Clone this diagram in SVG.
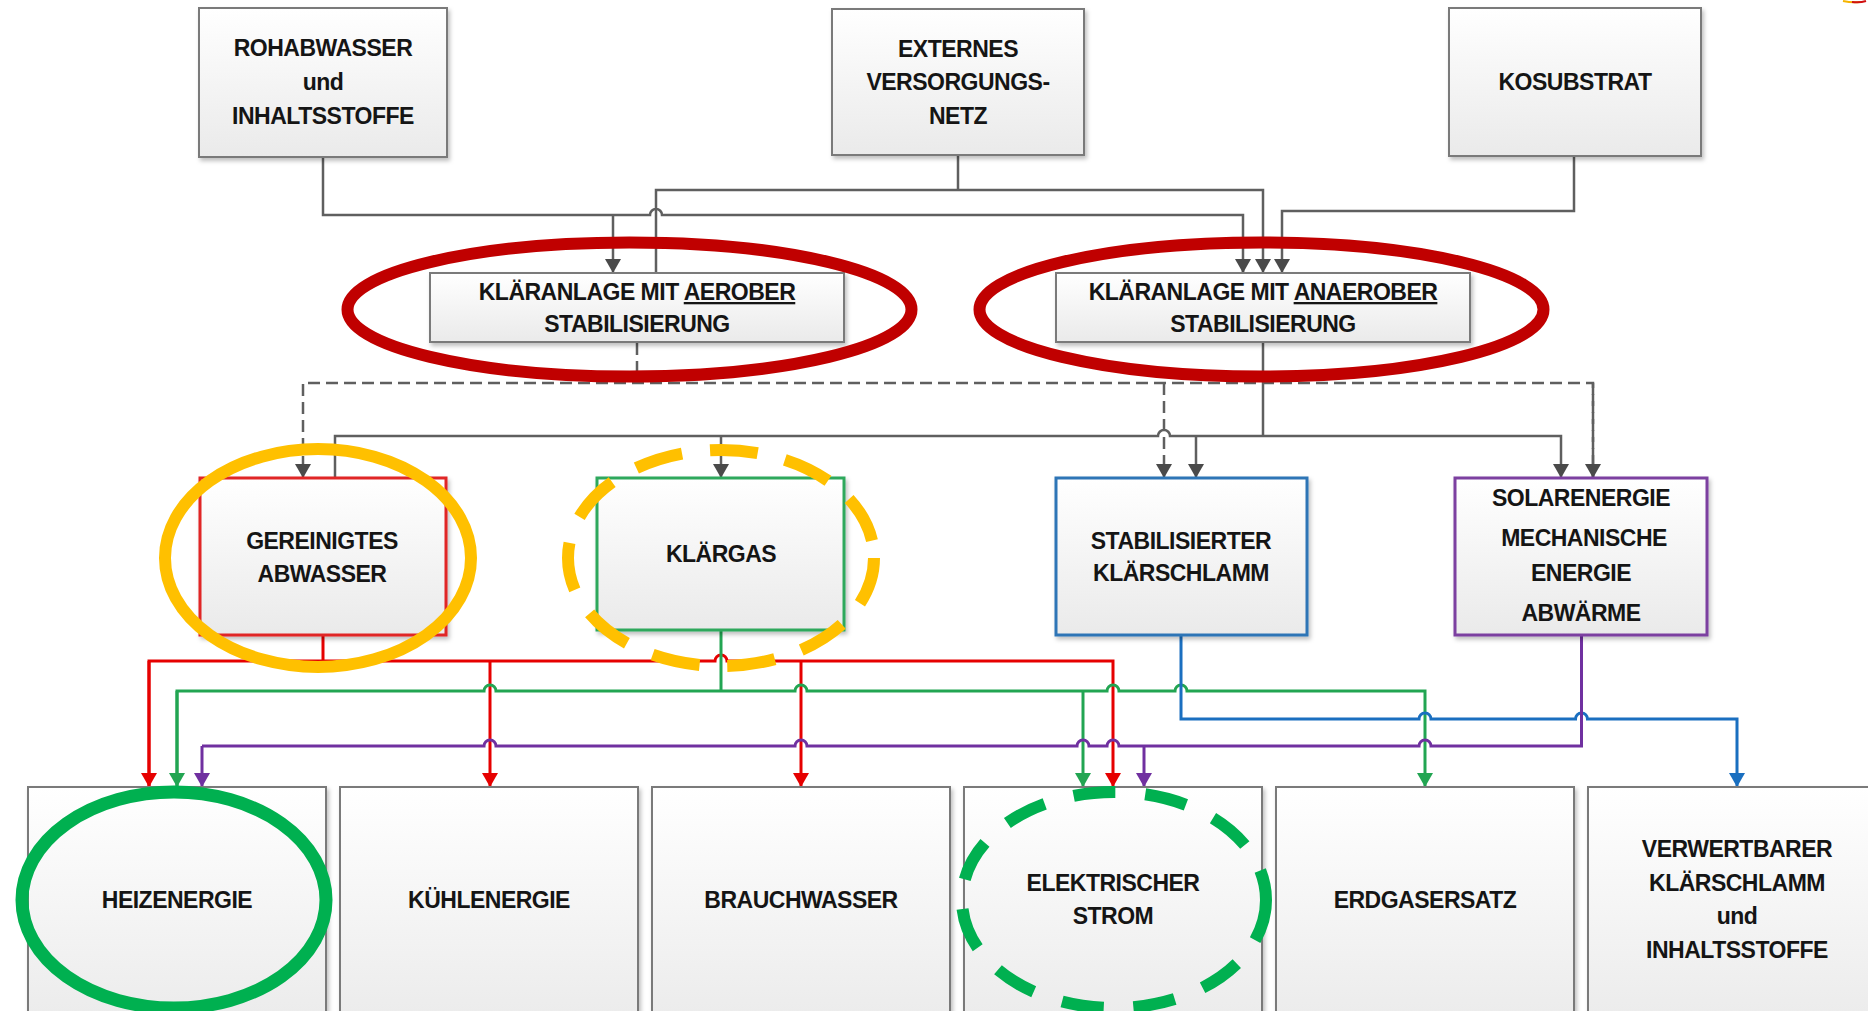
<svg xmlns="http://www.w3.org/2000/svg" width="1868" height="1011" viewBox="0 0 1868 1011">
<defs>
<linearGradient id="boxfill" x1="0" y1="0" x2="0" y2="1">
<stop offset="0" stop-color="#ffffff"/>
<stop offset="1" stop-color="#eaeaea"/>
</linearGradient>
<filter id="shadow" x="-10%" y="-10%" width="130%" height="130%">
<feDropShadow dx="2" dy="3" stdDeviation="2" flood-color="#000" flood-opacity="0.25"/>
</filter>
<marker id="arGray" markerUnits="userSpaceOnUse" viewBox="0 0 14 16" refX="14" refY="8" markerWidth="15" markerHeight="16" orient="auto"><path d="M0 0 L14 8 L0 16 Z" fill="#4a4a4a"/></marker>
<marker id="arRed" markerUnits="userSpaceOnUse" viewBox="0 0 14 16" refX="14" refY="8" markerWidth="15" markerHeight="16" orient="auto"><path d="M0 0 L14 8 L0 16 Z" fill="#e60000"/></marker>
<marker id="arGreen" markerUnits="userSpaceOnUse" viewBox="0 0 14 16" refX="14" refY="8" markerWidth="15" markerHeight="16" orient="auto"><path d="M0 0 L14 8 L0 16 Z" fill="#22a552"/></marker>
<marker id="arBlue" markerUnits="userSpaceOnUse" viewBox="0 0 14 16" refX="14" refY="8" markerWidth="15" markerHeight="16" orient="auto"><path d="M0 0 L14 8 L0 16 Z" fill="#1a6fc0"/></marker>
<marker id="arPurple" markerUnits="userSpaceOnUse" viewBox="0 0 14 16" refX="14" refY="8" markerWidth="15" markerHeight="16" orient="auto"><path d="M0 0 L14 8 L0 16 Z" fill="#7030a0"/></marker>
</defs>
<style>
.box{fill:url(#boxfill);stroke:#7a7a7a;stroke-width:2;filter:url(#shadow)}
.bred{stroke:#e02525;stroke-width:3}
.bgreen{stroke:#2fa85c;stroke-width:3}
.bblue{stroke:#2e75b6;stroke-width:3}
.bpurple{stroke:#7b3fa0;stroke-width:3}
text{font-family:"Liberation Sans",Arial,sans-serif;font-weight:bold;font-size:23px;letter-spacing:-0.5px;fill:#151515;text-anchor:middle}
.c{fill:none;stroke-linejoin:miter}
.gray{stroke:#5f5f5f;stroke-width:2.5}
.dash{stroke:#5f5f5f;stroke-width:2.5;stroke-dasharray:12 6}
.red{stroke:#e60000;stroke-width:3}
.green{stroke:#22a552;stroke-width:3}
.blue{stroke:#1a6fc0;stroke-width:3}
.purple{stroke:#7030a0;stroke-width:3}
.ma-g{marker-end:url(#arGray)}
.ma-r{marker-end:url(#arRed)}
.ma-gr{marker-end:url(#arGreen)}
.ma-b{marker-end:url(#arBlue)}
.ma-p{marker-end:url(#arPurple)}
.hl{fill:none}
</style>

<g id="connectors">
<!-- gray top connectors -->
<path class="c gray" d="M323 157 V215 H650 A6 6 0 0 1 662 215 H1243 V273"/>
<path class="c gray ma-g" d="M1243 260 V273"/>
<path class="c gray ma-g" d="M613 215 V273"/>
<path class="c gray ma-g" d="M656 273 V190 H1263 V273"/>
<path class="c gray" d="M958 155 V190"/>
<path class="c gray ma-g" d="M1574 156 V211 H1282 V273"/>
<!-- dashed connectors from aerobic plant -->
<path class="c dash" d="M637 343 V383"/>
<path class="c dash ma-g" d="M1593 478 V383 H303 V478"/>
<path class="c dash" d="M1593 383 V478"/>
<path class="c dash ma-g" d="M1164 383 V478"/>
<!-- solid connectors from anaerobic plant -->
<path class="c gray" d="M1263 343 V436"/>
<path class="c gray ma-g" d="M335 478 V436 H1158 A6 6 0 0 1 1170 436 H1561 V478"/>
<path class="c gray ma-g" d="M721 436 V478"/>
<path class="c gray ma-g" d="M1196 436 V478"/>
<path class="c gray ma-g" d="M1593 460 V478"/>
<!-- red: gereinigtes abwasser -->
<path class="c red" d="M323 635 V661"/>
<path class="c red ma-r" d="M149 787 V661 H715 A6 6 0 0 1 727 661 H1113 V787"/>
<path class="c red ma-r" d="M149 661 V787"/>
<path class="c red ma-r" d="M490 661 V787"/>
<path class="c red ma-r" d="M801 661 V787"/>
<!-- green: klärgas -->
<path class="c green" d="M721 630 V691"/>
<path class="c green ma-gr" d="M177 787 V691 H484 A6 6 0 0 1 496 691 H795 A6 6 0 0 1 807 691 H1107 A6 6 0 0 1 1119 691 H1175 A6 6 0 0 1 1187 691 H1425 V787"/>
<path class="c green ma-gr" d="M177 691 V787"/>
<path class="c green ma-gr" d="M1083 691 V787"/>
<!-- blue: stabilisierter klärschlamm -->
<path class="c blue ma-b" d="M1181 635 V719 H1419 A6 6 0 0 1 1431 719 H1575.5 A6 6 0 0 1 1587.5 719 H1737 V787"/>
<!-- purple: solar / mechanische energie / abwärme -->
<path class="c purple" d="M202 746 H484 A6 6 0 0 1 496 746 H795 A6 6 0 0 1 807 746 H1077 A6 6 0 0 1 1089 746 H1107 A6 6 0 0 1 1119 746 H1419 A6 6 0 0 1 1431 746 H1581.5 V635"/>
<path class="c purple ma-p" d="M202 746 V787"/>
<path class="c purple ma-p" d="M1144 746 V787"/>
</g>

<g id="n-rohabwasser">
<rect class="box" x="199" y="8" width="248" height="149"/>
<text x="323" y="56">ROHABWASSER</text>
<text x="323" y="90">und</text>
<text x="323" y="124">INHALTSSTOFFE</text>
</g>
<g id="n-externes">
<rect class="box" x="832" y="9" width="252" height="146"/>
<text x="958" y="57">EXTERNES</text>
<text x="958" y="90">VERSORGUNGS-</text>
<text x="958" y="124">NETZ</text>
</g>
<g id="n-kosubstrat">
<rect class="box" x="1449" y="8" width="252" height="148"/>
<text x="1575" y="90">KOSUBSTRAT</text>
</g>
<g id="n-aerob">
<rect class="box" x="430" y="273" width="414" height="69"/>
<text x="637" y="300">KLÄRANLAGE MIT <tspan text-decoration="underline">AEROBER</tspan></text>
<text x="637" y="332">STABILISIERUNG</text>
</g>
<g id="n-anaerob">
<rect class="box" x="1056" y="273" width="414" height="69"/>
<text x="1263" y="300">KLÄRANLAGE MIT <tspan text-decoration="underline">ANAEROBER</tspan></text>
<text x="1263" y="332">STABILISIERUNG</text>
</g>
<g id="n-gereinigtes">
<rect class="box bred" x="200" y="478" width="246" height="157"/>
<text x="322" y="549">GEREINIGTES</text>
<text x="322" y="582">ABWASSER</text>
</g>
<g id="n-klaergas">
<rect class="box bgreen" x="597" y="478" width="247" height="152"/>
<text x="721" y="562">KLÄRGAS</text>
</g>
<g id="n-stabilisierter">
<rect class="box bblue" x="1056" y="478" width="251" height="157"/>
<text x="1181" y="549">STABILISIERTER</text>
<text x="1181" y="581">KLÄRSCHLAMM</text>
</g>
<g id="n-solar">
<rect class="box bpurple" x="1455" y="478" width="252" height="157"/>
<text x="1581" y="506">SOLARENERGIE</text>
<text x="1584" y="546">MECHANISCHE</text>
<text x="1581" y="581">ENERGIE</text>
<text x="1581" y="621">ABWÄRME</text>
</g>
<g id="n-heizenergie">
<rect class="box" x="28" y="787" width="298" height="250"/>
<text x="177" y="908">HEIZENERGIE</text>
</g>
<g id="n-kuehlenergie">
<rect class="box" x="340" y="787" width="298" height="250"/>
<text x="489" y="908">KÜHLENERGIE</text>
</g>
<g id="n-brauchwasser">
<rect class="box" x="652" y="787" width="298" height="250"/>
<text x="801" y="908">BRAUCHWASSER</text>
</g>
<g id="n-strom">
<rect class="box" x="964" y="787" width="298" height="250"/>
<text x="1113" y="891">ELEKTRISCHER</text>
<text x="1113" y="924">STROM</text>
</g>
<g id="n-erdgas">
<rect class="box" x="1276" y="787" width="298" height="250"/>
<text x="1425" y="908">ERDGASERSATZ</text>
</g>
<g id="n-verwertbarer">
<rect class="box" x="1588" y="787" width="298" height="250"/>
<text x="1737" y="857">VERWERTBARER</text>
<text x="1737" y="891">KLÄRSCHLAMM</text>
<text x="1737" y="924">und</text>
<text x="1737" y="958">INHALTSSTOFFE</text>
</g>

<g id="highlights">
<ellipse class="hl" cx="629.5" cy="309.5" rx="282" ry="67" stroke="#c00000" stroke-width="12"/>
<ellipse class="hl" cx="1261.5" cy="309.5" rx="282" ry="67" stroke="#c00000" stroke-width="12"/>
<ellipse class="hl" cx="318" cy="558" rx="153" ry="109" stroke="#ffc000" stroke-width="12"/>
<ellipse class="hl" cx="721" cy="558" rx="153" ry="108" stroke="#ffc000" stroke-width="12" stroke-dasharray="48 28"/>
<ellipse class="hl" cx="174" cy="900" rx="152" ry="108" stroke="#00b050" stroke-width="13"/>
<ellipse class="hl" cx="1114" cy="900" rx="152" ry="108" stroke="#00b050" stroke-width="12" stroke-dasharray="42 30"/>
</g>

<g id="corner-fragment">
<path d="M1843 1 Q1852 3 1860 2" fill="none" stroke="#f5b400" stroke-width="2"/>
<path d="M1852 2 Q1860 3 1866 1" fill="none" stroke="#d01010" stroke-width="2"/>
</g>
</svg>
